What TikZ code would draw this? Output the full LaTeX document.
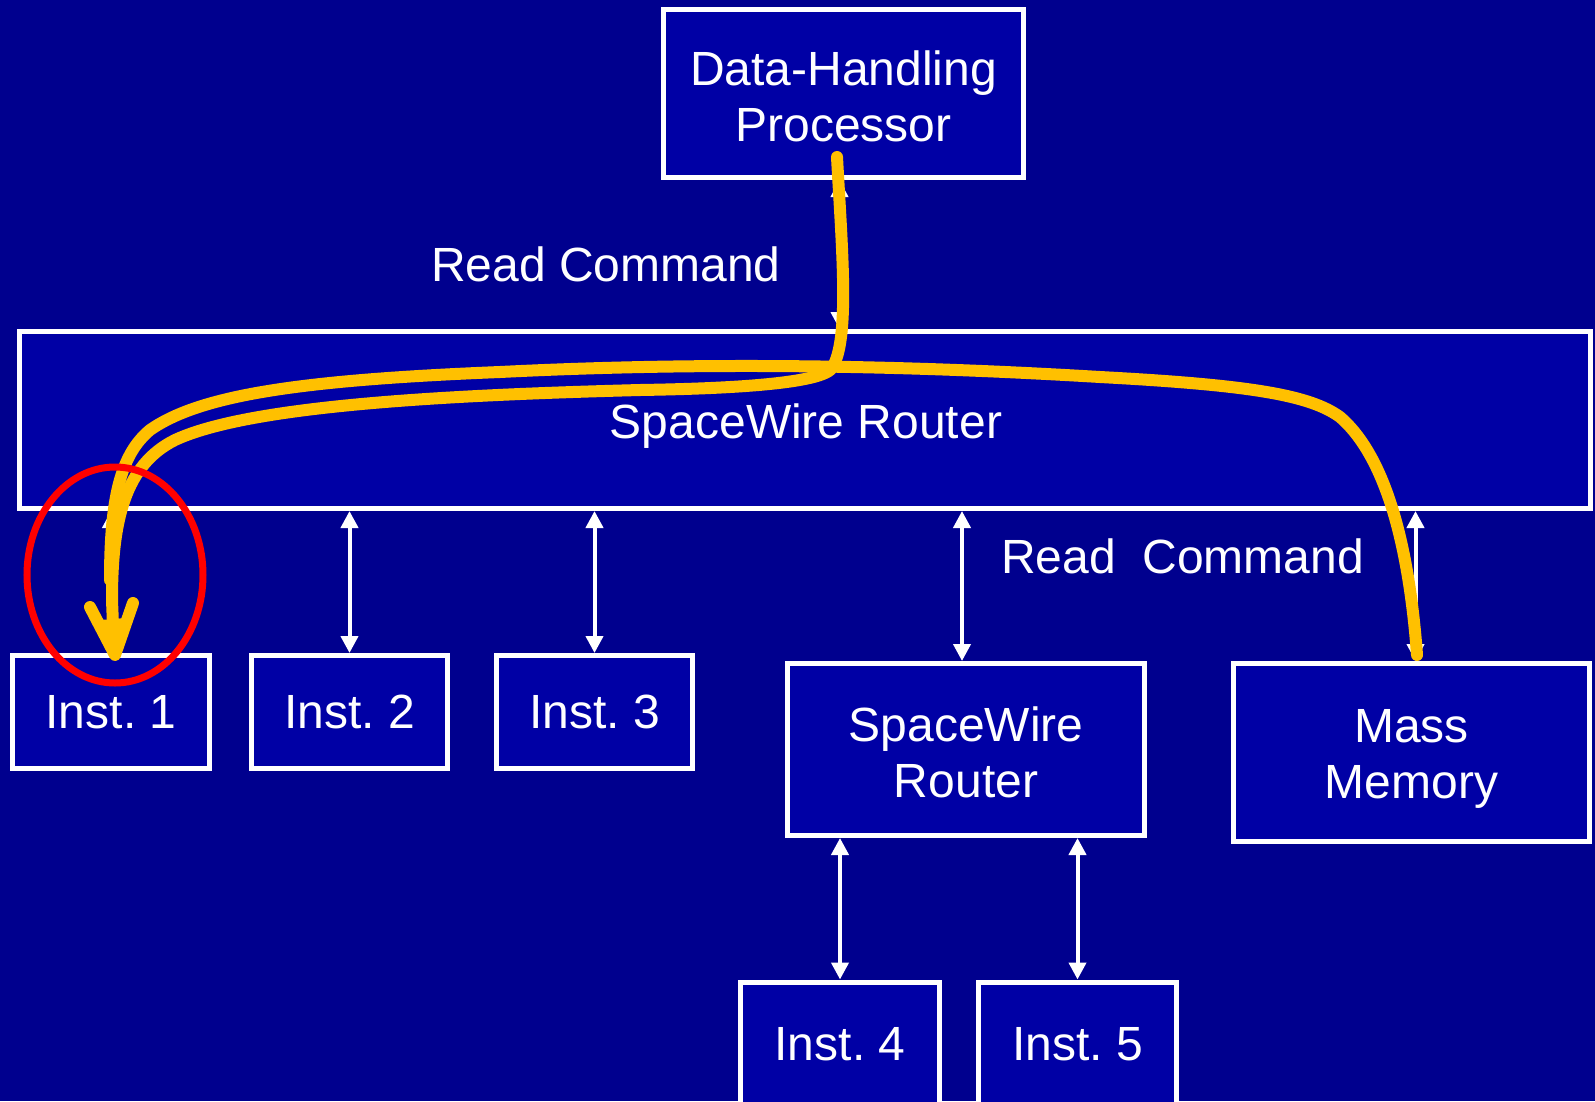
\documentclass[tikz,border=0pt]{standalone}
\usepackage{fontspec}
\setmainfont{Liberation Sans}
\usetikzlibrary{arrows.meta,calc}
\frenchspacing

\definecolor{bgblue}{RGB}{0,0,142}
\definecolor{boxblue}{RGB}{0,0,165}
\definecolor{amber}{RGB}{255,192,0}

\tikzset{
  unitbox/.style={draw=white, line width=5pt, fill=boxblue, text=white,
    inner sep=0pt, align=center, font=\fontsize{48}{56}\selectfont},
  boxtext/.style={text=white, inner sep=0pt, align=center, font=\fontsize{48}{56}\selectfont},
  linkarrow/.style={draw=white, line width=4pt,
    {Triangle[width=17pt,length=17pt]}-{Triangle[width=17pt,length=17pt]}},
  pathline/.style={draw=amber, line width=12pt, line cap=round, line join=round},
  lbl/.style={text=white, inner sep=0pt, anchor=west, font=\fontsize{48}{56}\selectfont},
}

\begin{document}
\begin{tikzpicture}[x=1pt,y=-1pt]
  % page and background
  \fill[bgblue] (0,0) rectangle (1595,1101);
  \useasboundingbox (0,0) rectangle (1595,1101);
  \clip (0,0) rectangle (1595,1101);

  % units
  \node[unitbox, minimum width=360pt, minimum height=168pt] (dhp) at (843.5,93.5) {};
  \node[boxtext] (dhptext) at (843.5,96) {Data-Handling\\Processor};
  \node[unitbox, minimum width=1571pt, minimum height=177pt] (rt) at (805,420) {};
  \node[boxtext] (rttext) at (806,426) {SpaceWire Router};
  \node[unitbox, minimum width=197pt, minimum height=113pt] (i1) at (111,712) {Inst. 1};
  \node[unitbox, minimum width=196pt, minimum height=113pt] (i2) at (349.5,712) {Inst. 2};
  \node[unitbox, minimum width=196pt, minimum height=113pt] (i3) at (594.5,712) {Inst. 3};
  \node[unitbox, minimum width=357pt, minimum height=172pt] (rt2) at (966,749.5) {};
  \node[boxtext] (rt2text) at (966,752) {SpaceWire\\Router};
  \node[unitbox, minimum width=356pt, minimum height=178pt] (mm) at (1411.5,752.5) {};
  \node[boxtext] (mmtext) at (1411.5,759) {Mass\\Memory};
  \node[unitbox, minimum width=199pt, minimum height=124pt] (i4) at (840,1044) {Inst. 4};
  \node[unitbox, minimum width=198pt, minimum height=124pt] (i5) at (1077.5,1044) {Inst. 5};

  % labels
  \node[lbl] (rc1) at (431,264) {Read Command};
  \node[lbl] (rc2) at (1001,556) {Read\ \ Command};

  % SpaceWire links
  \draw[linkarrow] ($(dhp.south)+(-4,0)$) -- ($(dhp.south |- rt.north)+(-4,0)$);
  \draw[linkarrow] (i1.north |- rt.south) -- (i1.north);
  \draw[linkarrow] (i2.north |- rt.south) -- (i2.north);
  \draw[linkarrow] (i3.north |- rt.south) -- (i3.north);
  \draw[linkarrow] ($(rt2.north |- rt.south)+(-4,0)$) -- ($(rt2.north)+(-4,0)$);
  \draw[linkarrow] ($(mm.north |- rt.south)+(4,0)$) -- ($(mm.north)+(4,0)$);
  \draw[linkarrow] (i4.north |- rt2.south) -- (i4.north);
  \draw[linkarrow] (i5.north |- rt2.south) -- (i5.north);

  % read command path: processor -> router -> instrument 1
  \draw[pathline] (837,157) .. controls (842,250) and (850,340) .. (832,368)
    .. controls (820,386) and (700,389) .. (640,390)
    .. controls (450,395) and (250,405) .. (175,440)
    .. controls (125,465) and (112,520) .. (112,600)
    -- (114,650);
  % read command path: mass memory -> router -> instrument 1
  \draw[pathline] (1417,655) .. controls (1410,560) and (1390,460) .. (1340,417)
    .. controls (1310,395) and (1250,385) .. (1100,377)
    .. controls (900,365) and (700,362) .. (500,372)
    .. controls (300,380) and (200,395) .. (150,430)
    .. controls (120,455) and (110,500) .. (110,580);
  % arrow head at instrument 1
  \draw[pathline] (90,607) -- (115,655) -- (133,603);
  \fill[amber] (100,620) -- (115,660) -- (126,618) -- cycle;

  % highlight of instrument 1
  \draw[red, line width=7pt] (115,575) ellipse [x radius=88, y radius=108];
\end{tikzpicture}
\end{document}
